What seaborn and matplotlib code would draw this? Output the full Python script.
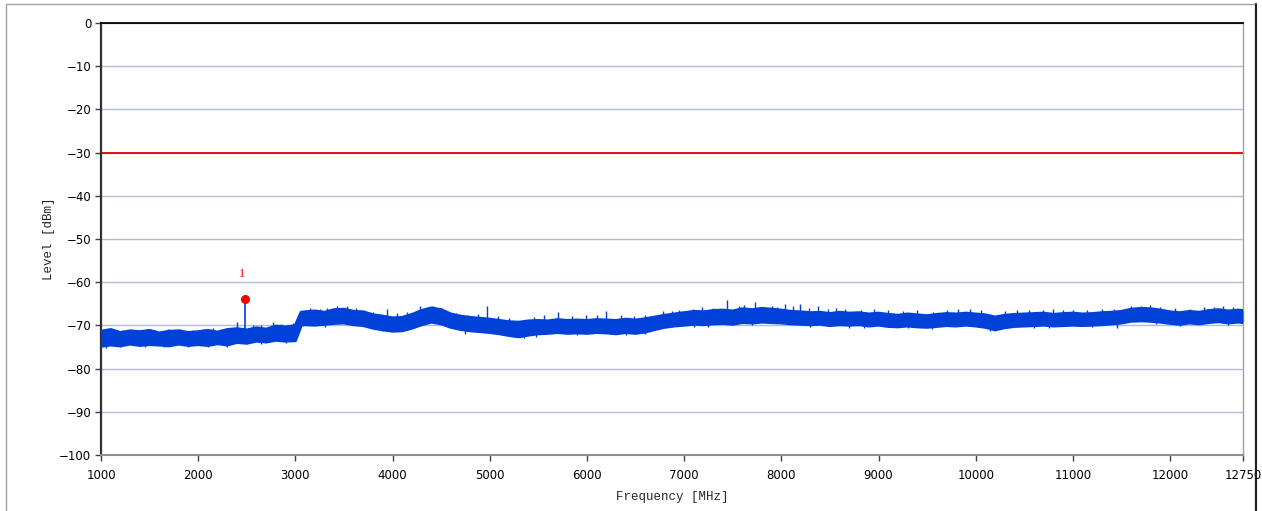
import numpy as np
import pandas as pd
import matplotlib
matplotlib.use("Agg")
import matplotlib.pyplot as plt
import seaborn as sns
from matplotlib.patches import Rectangle
from matplotlib.lines import Line2D

# ---------------- data ----------------
freq_mhz = list(range(1000, 3001, 100)) + [3060] + list(range(3100, 12701, 100)) + [12750]

upper_dbm = [
    -71.4, -71.0, -71.7, -71.3, -71.5, -71.2, -71.8, -71.4, -71.3, -71.7,
    -71.5, -71.2, -71.6, -71.0, -70.8, -71.1, -70.6, -70.9, -70.2, -70.4,
    -70.1, -67.0, -66.9, -66.7, -67.0, -66.4, -66.3, -66.8, -66.9, -67.6, -67.9,
    -68.3, -68.2, -67.5, -66.6, -66.0, -66.4, -67.4, -67.9, -68.2, -68.4,
    -68.6, -68.9, -69.2, -69.3, -69.0, -68.9, -69.0, -68.7, -68.9, -68.8,
    -68.9, -68.7, -68.8, -68.9, -68.6, -68.8, -68.5, -68.1, -67.7, -67.4,
    -67.1, -66.8, -66.9, -66.6, -66.5, -66.7, -66.2, -66.4, -66.1, -66.3,
    -66.5, -66.8, -66.9, -67.1, -67.0, -67.3, -67.0, -67.2, -67.1, -67.4,
    -67.2, -67.5, -67.7, -67.4, -67.6, -67.8, -67.5, -67.3, -67.4, -67.2,
    -67.4, -67.6, -68.1, -67.7, -67.5, -67.4, -67.3, -67.2, -67.5, -67.3,
    -67.2, -67.4, -67.3, -67.1, -67.0, -66.8, -66.3, -66.1, -66.2, -66.5,
    -66.9, -67.1, -66.8, -67.0, -66.6, -66.4, -66.7, -66.5, -66.6,
]
lower_dbm = [
    -74.8, -74.5, -74.7, -74.3, -74.6, -74.4, -74.5, -74.7, -74.3, -74.6,
    -74.4, -74.6, -74.2, -74.5, -73.9, -74.1, -73.6, -73.8, -73.4, -73.6,
    -73.5, -69.9, -69.8, -69.9, -69.7, -69.5, -69.4, -69.8, -70.0, -70.6, -71.0,
    -71.3, -71.2, -70.6, -69.8, -69.2, -69.6, -70.4, -70.9, -71.2, -71.4,
    -71.6, -71.9, -72.3, -72.6, -72.2, -71.9, -71.8, -71.6, -71.8, -71.7,
    -71.8, -71.6, -71.7, -71.9, -71.6, -71.8, -71.5, -70.9, -70.4, -70.1,
    -69.9, -69.7, -69.8, -69.6, -69.5, -69.7, -69.3, -69.4, -69.2, -69.3,
    -69.4, -69.6, -69.7, -69.8, -69.7, -70.0, -69.8, -69.9, -69.8, -70.1,
    -69.9, -70.2, -70.3, -70.1, -70.3, -70.4, -70.2, -70.0, -70.1, -69.9,
    -70.1, -70.4, -71.0, -70.5, -70.2, -70.1, -70.0, -69.9, -70.1, -70.0,
    -69.9, -70.0, -69.9, -69.8, -69.6, -69.4, -69.0, -68.9, -69.0, -69.2,
    -69.5, -69.7, -69.4, -69.6, -69.3, -69.1, -69.4, -69.2, -69.3,
]

spike_up_freq = [
    1050, 1120, 1230, 1350, 1480, 1560, 1690, 1810, 1950, 2050, 2150, 2230, 2330,
    2400, 2470, 2560, 2650, 2770, 2850, 2920, 2980,
    3150, 3250, 3330, 3430, 3530, 3620, 3700, 3800, 3940, 4050, 4150, 4280, 4350,
    4420, 4500, 4650, 4780, 4880, 4970, 5080, 5200, 5450, 5560, 5700, 5850, 5990,
    6100, 6200, 6350, 6480, 6600, 6780, 6880, 6950, 7090, 7180, 7300, 7440, 7560,
    7620, 7730, 7900, 7960, 8040, 8120, 8190, 8280, 8380, 8480, 8560, 8650, 8820,
    8950, 9100, 9250, 9400, 9560, 9700, 9820, 9940, 10050, 10300, 10420, 10550,
    10690, 10800, 10900, 11000, 11150, 11300, 11420, 11600, 11700, 11790, 11900,
    12050, 12200, 12350, 12450, 12540, 12650,
]
spike_up_top = [
    -71.0, -70.9, -71.1, -71.0, -70.9, -71.0, -70.9, -70.8, -71.0, -70.9, -70.7, -70.8, -70.5,
    -69.1, -70.4, -70.0, -70.0, -69.3, -69.6, -69.8, -69.4,
    -66.0, -66.2, -65.9, -65.5, -65.6, -66.0, -66.6, -67.0, -66.3, -67.2, -67.0, -65.6, -65.8,
    -65.5, -66.0, -67.2, -67.5, -67.4, -65.5, -67.8, -68.2, -68.0, -67.6, -67.0, -67.8, -67.5,
    -67.7, -66.6, -67.6, -67.8, -67.5, -66.6, -66.6, -66.5, -66.3, -65.8, -65.9, -64.1, -65.5,
    -65.3, -64.5, -65.4, -65.8, -65.0, -65.6, -65.0, -66.0, -65.5, -66.2, -66.0, -66.3, -66.4,
    -66.2, -66.5, -66.6, -66.5, -66.9, -66.4, -66.3, -66.3, -66.5, -66.7, -66.4, -66.5,
    -66.4, -66.3, -66.5, -66.4, -66.4, -66.2, -66.3, -65.5, -65.6, -65.3, -65.8,
    -66.0, -66.1, -65.8, -65.7, -65.5, -65.8,
]
spike_down_freq = [
    1050, 1200, 1450, 1650, 1900, 2100, 2300, 2650, 2900, 3300, 3900, 4750, 5250,
    5350, 5480, 5900, 6400, 6600, 7100, 7250, 7700, 8300, 8700, 8850, 9300, 9550,
    10150, 10600, 10750, 11200, 11450, 11850, 12100, 12600,
]
spike_down_bottom = [
    -75.2, -75.1, -75.0, -75.0, -75.0, -75.1, -75.0, -74.3, -74.0, -70.3, -71.4, -72.0, -72.8,
    -72.9, -72.6, -72.2, -72.2, -72.0, -70.3, -70.3, -70.0, -70.4, -70.5, -70.6, -70.7, -70.8,
    -71.3, -70.5, -70.5, -70.4, -70.5, -69.6, -70.1, -69.8,
]

limit_dbm = -30
marker_freq = 2480
marker_level = -63.9
marker_label = "1"

x_ticks = [1000, 2000, 3000, 4000, 5000, 6000, 7000, 8000, 9000, 10000, 11000, 12000, 12750]
y_ticks = [0, -10, -20, -30, -40, -50, -60, -70, -80, -90, -100]
x_label = "Frequency [MHz]"
y_label = "Level [dBm]"

# ---------------- figure ----------------
sns.set_theme(style="white")
plt.rcParams["font.family"] = ["DejaVu Sans"]

W, H = 1262, 511
fig = plt.figure(figsize=(W / 100, H / 100), dpi=100)
fig.patch.set_facecolor("white")
ax = fig.add_axes([101 / W, 1 - 455 / H, (1243 - 101) / W, (455 - 23) / H])

trace_color = "#0041d9"
df = pd.DataFrame({"f": freq_mhz, "hi": upper_dbm, "lo": lower_dbm})

ax.fill_between(df["f"], df["lo"], df["hi"], color=trace_color, lw=0, zorder=3)
sns.lineplot(data=df, x="f", y="hi", ax=ax, color=trace_color, lw=2.4, zorder=3, legend=False)
sns.lineplot(data=df, x="f", y="lo", ax=ax, color=trace_color, lw=2.4, zorder=3, legend=False)

mid = (np.array(upper_dbm) + np.array(lower_dbm)) / 2
mid_up = np.interp(spike_up_freq, freq_mhz, mid)
ax.vlines(spike_up_freq, mid_up, spike_up_top, color=trace_color, lw=1.0, zorder=3)
mid_dn = np.interp(spike_down_freq, freq_mhz, mid)
ax.vlines(spike_down_freq, spike_down_bottom, mid_dn, color=trace_color, lw=1.0, zorder=3)

# marker stem + point
stem_base = float(np.interp(marker_freq, freq_mhz, mid))
ax.vlines([marker_freq], stem_base, marker_level, color=trace_color, lw=1.2, zorder=4)
ax.plot([marker_freq], [marker_level], "o", color="#ff0000", ms=5.5, zorder=5)
ax.text(marker_freq - 30, marker_level + 5.8, marker_label, color="#ff0000",
        ha="center", va="center", fontsize=9, family="Liberation Serif")

# limit line
ax.axhline(limit_dbm, color="#e00000", lw=1.3, zorder=2)

# axes
ax.set_xlim(1000, 12750)
ax.set_ylim(-100, 0)
ax.set_xticks(x_ticks)
ax.set_yticks(y_ticks)
ax.set_xticklabels([str(t) for t in x_ticks])
ax.set_yticklabels([str(t).replace("-", "\u2212") for t in y_ticks])
ax.yaxis.grid(True, color="#b0bcd8", lw=1.0, zorder=1)
ax.xaxis.grid(False)
ax.set_axisbelow(True)
ax.tick_params(axis="both", which="major", direction="out", length=4, width=1,
               color="#404040", labelsize=8.5, labelcolor="#000000", pad=3,
               left=True, bottom=True)
ax.tick_params(axis="x", pad=6)

ax.spines["top"].set_color("#000000")
ax.spines["top"].set_linewidth(1.3)
ax.spines["left"].set_color("#303030")
ax.spines["left"].set_linewidth(1.6)
ax.spines["right"].set_color("#a0a0a0")
ax.spines["right"].set_linewidth(1.0)
ax.spines["bottom"].set_color("#909090")
ax.spines["bottom"].set_linewidth(1.5)

ax.set_xlabel(x_label, family="Liberation Mono", fontsize=9, labelpad=6.5)
ax.set_ylabel(y_label, family="Liberation Mono", fontsize=9, labelpad=3)

# outer frame
fig.add_artist(Rectangle((6 / W, -0.02), (1255 - 6) / W, 1 - 4 / H + 0.02,
                         transform=fig.transFigure, fill=False, ec="#a0a0a0", lw=1.0))
fig.add_artist(Line2D([1256 / W, 1256 / W], [0, 1 - 4 / H], transform=fig.transFigure,
                      color="#202020", lw=1.5))

fig.savefig("out.png", dpi=100, facecolor="white")
